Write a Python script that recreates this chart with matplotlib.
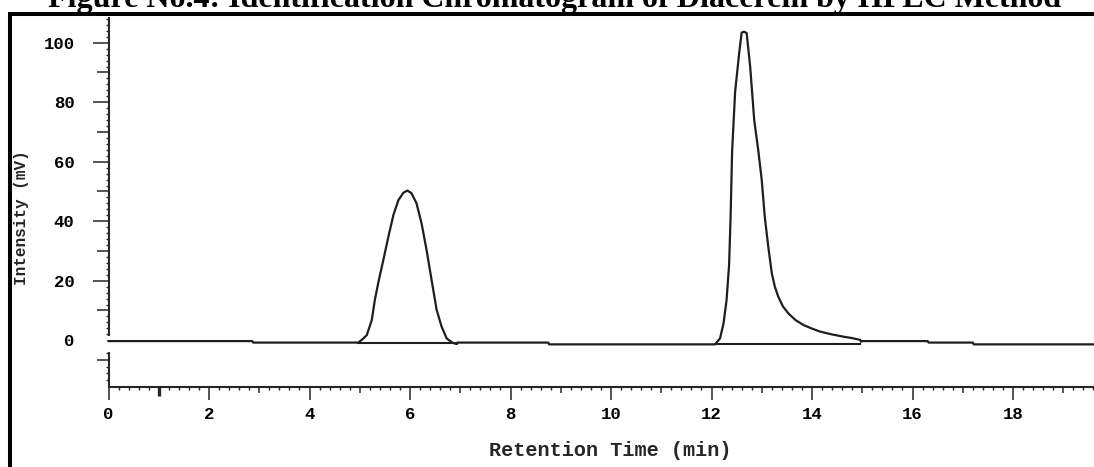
import matplotlib
matplotlib.use("Agg")
import matplotlib.pyplot as plt
from matplotlib.lines import Line2D

# ---- data ----
time_min = [0.00, 2.86, 2.88, 4.97, 5.06, 5.14, 5.24, 5.30, 5.38, 5.47, 5.57, 5.67,
            5.77, 5.87, 5.95, 6.03, 6.13, 6.23, 6.33, 6.43, 6.53, 6.63, 6.73, 6.85,
            6.93, 6.95, 8.75, 8.77, 12.07, 12.17, 12.24, 12.30, 12.35, 12.38, 12.41,
            12.47, 12.55, 12.60, 12.65, 12.70, 12.77, 12.85, 12.93, 13.00, 13.06,
            13.13, 13.20, 13.26, 13.33, 13.42, 13.53, 13.67, 13.83, 14.00, 14.16,
            14.38, 14.62, 14.80, 14.96, 14.97, 15.00,
            16.30, 16.32, 17.20, 17.22, 19.61]
intensity_mv = [-0.3, -0.3, -0.8, -0.8, 0.4, 1.7, 6.8, 13.5, 20.2, 27.0, 34.8, 42.1,
                47.1, 49.6, 50.3, 49.4, 46.0, 39.3, 30.3, 20.2, 10.2, 4.5, 0.6, -0.9,
                -1.3, -0.8, -0.8, -1.4, -1.4, 0.6, 5.7, 13.5, 25.3, 41.5, 63.4,
                83.5, 96.4, 103.4, 103.7, 103.2, 91.9, 74.0, 63.9, 53.8, 41.5,
                31.4, 22.5, 18.0, 14.6, 11.4, 9.0, 6.8, 5.1, 3.9, 2.9,
                2.0, 1.2, 0.7, 0.1, -0.5, -0.3,
                -0.3, -0.8, -0.8, -1.4, -1.4]

# integration baselines (start time, end time, level)
base_start = [4.97, 12.07]
base_end = [6.93, 14.96]
base_level = [-0.8, -1.4]

x_major = list(range(0, 20))
x_labels = [str(v) if v % 2 == 0 else "" for v in x_major]
y_major = [0, 10, 20, 30, 40, 50, 60, 70, 80, 90, 100]
y_labels = [str(v) if v % 20 == 0 else "" for v in y_major]

title = "Figure No.4: Identification Chromatogram of Diacerein by HPLC Method"
xlabel = "Retention Time (min)"
ylabel = "Intensity (mV)"

# ---- figure ----
W, H = 1094, 467
fig = plt.figure(figsize=(W / 100, H / 100), dpi=100)
fig.patch.set_facecolor("white")

ink = "#262626"
mono = "Liberation Mono"

x_left_px, y_top_px, y_bot_px = 108.5, 18, 387
y0_px, ppu = 340.2, 2.975
ylo = (y0_px - y_bot_px) / ppu
yhi = (y0_px - y_top_px) / ppu
xmax = (W - x_left_px) / 50.25

ax = fig.add_axes([x_left_px / W, 1 - y_bot_px / H, 1 - x_left_px / W,
                   (y_bot_px - y_top_px) / H])
ax.set_xlim(0, xmax)
ax.set_ylim(ylo, yhi)
ax.patch.set_alpha(0)

for s in ["top", "right"]:
    ax.spines[s].set_visible(False)
for s in ["left", "bottom"]:
    ax.spines[s].set_color(ink)
    ax.spines[s].set_linewidth(1.5)
ax.spines["left"].set_bounds(1.7, yhi)
ax.plot([0, 0], [ylo, -3.9], color=ink, lw=1.5, clip_on=False, solid_capstyle="butt")

# trace
ax.plot(time_min, intensity_mv, color="#1e1e1e", lw=1.6, clip_on=False,
        solid_joinstyle="round")
for s0, s1, lv in zip(base_start, base_end, base_level):
    ax.plot([s0, s1], [lv, lv], color="#1e1e1e", lw=1.5)

# x ticks
ax.set_xticks(x_major)
ax.set_xticklabels(x_labels, fontfamily=mono, fontweight="bold", fontsize=12.5)
ax.set_xticks([i * 0.2 for i in range(0, 99) if i % 5 != 0], minor=True)
ax.tick_params(axis="x", which="major", direction="out", length=9.4, width=1.1,
               color=ink, pad=5)
ax.tick_params(axis="x", which="minor", direction="out", length=2.2, width=1.0,
               color=ink)
for v, t in zip(x_major, ax.xaxis.get_major_ticks()):
    if v % 2 == 1:
        t.tick1line.set_markersize(6.5 if v == 1 else 4.3)
        if v == 1:
            t.tick1line.set_markeredgewidth(2.4)

# y ticks
ax.set_yticks(y_major + [-6.7])
ax.set_yticklabels(y_labels + [""], fontfamily=mono, fontweight="bold", fontsize=12.5)
ax.set_yticks([v for v in range(2, 109, 2) if v % 10 != 0] + [-4.2, -8.9, -11.1, -13.3],
              minor=True)
ax.tick_params(axis="y", which="major", direction="out", length=11.5, width=1.1,
               color=ink, pad=13)
ax.tick_params(axis="y", which="minor", direction="out", length=2.5, width=1.0,
               color=ink)
for v, t in zip(y_major + [-6.7], ax.yaxis.get_major_ticks()):
    if v == 0:
        t.tick1line.set_visible(False)
    elif v % 20 != 0:
        t.tick1line.set_markersize(8.6)

# labels
fig.text(610 / W, 1 - 456 / H, xlabel, ha="center", va="baseline",
         fontfamily=mono, fontweight="bold", fontsize=14.5, color=ink)
fig.text(22 / W, 1 - 218 / H, ylabel, ha="center", va="center", rotation=90,
         fontfamily=mono, fontweight="bold", fontsize=11.5, color=ink)

# title (cut off at the top like the source)
fig.text(555 / W, 1 - 7 / H, title, ha="center", va="baseline",
         fontfamily="Liberation Serif", fontweight="bold", fontsize=23, color="black")

# frame
fig.add_artist(Line2D([9.5 / W, 9.5 / W], [0, 1 - 13.7 / H], color="black", lw=2.9,
                      transform=fig.transFigure, solid_capstyle="butt"))
fig.add_artist(Line2D([7.5 / W, 1], [1 - 13.7 / H, 1 - 13.7 / H], color="black", lw=2.9,
                      transform=fig.transFigure, solid_capstyle="butt"))

fig.savefig("out.png", dpi=100)
